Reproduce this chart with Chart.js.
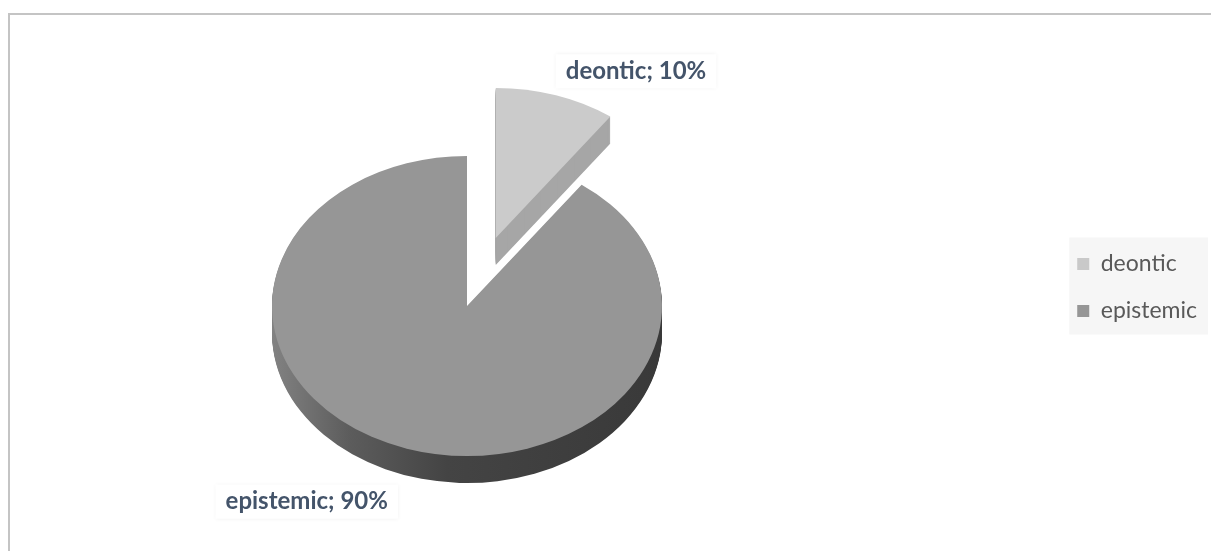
<!DOCTYPE html>
<html>
<head>
<meta charset="utf-8">
<script src="https://cdn.jsdelivr.net/npm/chart.js@4.4.1/dist/chart.umd.min.js"></script>
<style>
  html, body { margin: 0; padding: 0; background: #fff; }
  #wrap { width: 1211px; height: 551px; position: relative; }
</style>
</head>
<body>
<div id="wrap"><canvas id="modality_pie"></canvas></div>
<script>
const categories = ["deontic", "epistemic"];
const shares = [10, 90];
const valueLabels = ["deontic; 10%", "epistemic; 90%"];

const topColors = ["#cbcbcb", "#969696"];
const legendColors = ["#c9c9c9", "#969696"];

// pseudo 3d: squash the pie into an ellipse and extrude it downwards
const pieCenter = { x: 467, y: 306 };
const tilt = 150 / 195;
const depth = 27;
// how far each slice is pulled out of the pie
const explode = [93, 0];
// where each value label sits, relative to the outer edge at the slice middle
const labelShift = [[80, -24], [-100, 53]];

function projector(chart) {
  const arc = chart.getDatasetMeta(0).data[1];
  const tx = pieCenter.x - arc.x;
  const ty = pieCenter.y - tilt * arc.y;
  return {
    tx: tx,
    ty: ty,
    apply(x, y) { return { x: x + tx, y: y * tilt + ty }; },
  };
}

function explodeVec(arc, i) {
  const half = (arc.startAngle + arc.endAngle) / 2;
  return { x: Math.cos(half) * explode[i], y: Math.sin(half) * explode[i], half: half };
}

function slicePath(ctx, arc) {
  const p = arc.getProps(["x", "y", "startAngle", "endAngle", "outerRadius"]);
  ctx.beginPath();
  ctx.moveTo(p.x, p.y);
  ctx.arc(p.x, p.y, p.outerRadius, p.startAngle, p.endAngle);
  ctx.closePath();
}

const pie3d = {
  id: "pie3d",
  beforeDatasetsDraw(chart) {
    const ctx = chart.ctx;
    const pr = projector(chart);
    const arcs = chart.getDatasetMeta(0).data;
    ctx.save();
    ctx.translate(pr.tx, pr.ty);
    ctx.scale(1, tilt);

    const big = arcs[1];
    const grad = ctx.createLinearGradient(big.x - big.outerRadius, 0, big.x + big.outerRadius, 0);
    grad.addColorStop(0, "#828282");
    grad.addColorStop(0.2, "#5c5c5c");
    grad.addColorStop(0.45, "#444444");
    grad.addColorStop(1, "#393939");
    const sideFill = ["#a6a6a6", grad];

    // side walls: the slice stacked downwards
    for (let d = depth; d >= 1; d--) {
      arcs.forEach(function (arc, i) {
        const v = explodeVec(arc, i);
        ctx.save();
        ctx.translate(v.x, v.y + d / tilt);
        slicePath(ctx, arc);
        ctx.fillStyle = sideFill[i];
        ctx.fill();
        ctx.restore();
      });
    }
    // top faces, drawn by the arc elements themselves
    arcs.forEach(function (arc, i) {
      const v = explodeVec(arc, i);
      ctx.save();
      ctx.translate(v.x, v.y);
      arc.draw(ctx);
      ctx.restore();
    });
    ctx.restore();
    return false;
  },
};

const sliceLabels = {
  id: "sliceLabels",
  afterDraw(chart) {
    const ctx = chart.ctx;
    const pr = projector(chart);
    const arcs = chart.getDatasetMeta(0).data;
    ctx.save();
    ctx.font = "bold 24px Lato";
    ctx.textAlign = "center";
    ctx.textBaseline = "middle";
    arcs.forEach(function (arc, i) {
      const v = explodeVec(arc, i);
      const ex = arc.x + v.x + Math.cos(v.half) * arc.outerRadius;
      const ey = arc.y + v.y + Math.sin(v.half) * arc.outerRadius;
      const pt = pr.apply(ex, ey);
      const x = pt.x + labelShift[i][0];
      const y = pt.y + labelShift[i][1];
      const w = ctx.measureText(valueLabels[i]).width + 20;
      const h = 34;
      ctx.save();
      ctx.shadowColor = "rgba(0,0,0,0.06)";
      ctx.shadowBlur = 4;
      ctx.fillStyle = "#ffffff";
      ctx.fillRect(x - w / 2, y - h / 2, w, h);
      ctx.restore();
      ctx.fillStyle = "#44546a";
      ctx.fillText(valueLabels[i], x, y);
    });
    ctx.restore();
  },
};

const frame = {
  id: "frame",
  beforeDraw(chart) {
    const ctx = chart.ctx;
    const lg = chart.legend;
    ctx.save();
    ctx.strokeStyle = "#c4c4c4";
    ctx.lineWidth = 2;
    ctx.beginPath();
    ctx.moveTo(9, chart.height);
    ctx.lineTo(9, 14);
    ctx.lineTo(chart.width, 14);
    ctx.stroke();
    if (lg && lg.legendHitBoxes && lg.legendHitBoxes.length) {
      const boxes = lg.legendHitBoxes;
      const first = boxes[0];
      const last = boxes[boxes.length - 1];
      let right = 0;
      boxes.forEach(function (b) { right = Math.max(right, b.left + b.width); });
      ctx.fillStyle = "#f6f6f6";
      ctx.fillRect(first.left - 8, first.top - 15, right - first.left + 19, last.top + last.height - first.top + 27);
    }
    ctx.restore();
  },
};

function init() {
  const ctx = document.getElementById("modality_pie");
  new Chart(ctx, {
    type: "pie",
    data: {
      labels: categories,
      datasets: [
        {
          data: shares,
          backgroundColor: topColors,
          borderWidth: 0,
          clip: false,
        },
      ],
    },
    options: {
      responsive: true,
      maintainAspectRatio: false,
      animation: false,
      radius: 195,
      layout: { padding: { top: 24, right: 4, bottom: 0, left: 0 } },
      plugins: {
        tooltip: { enabled: false },
        legend: {
          position: "right",
          labels: {
            boxWidth: 12,
            boxHeight: 12,
            padding: 24,
            color: "#595959",
            font: { family: "Lato", size: 23 },
            generateLabels(chart) {
              return categories.map(function (c, i) {
                return {
                  text: c,
                  fillStyle: legendColors[i],
                  strokeStyle: legendColors[i],
                  lineWidth: 0,
                  fontColor: "#595959",
                  index: i,
                };
              });
            },
          },
        },
      },
    },
    plugins: [frame, pie3d, sliceLabels],
  });
}

window.onload = init;
</script>
</body>
</html>
